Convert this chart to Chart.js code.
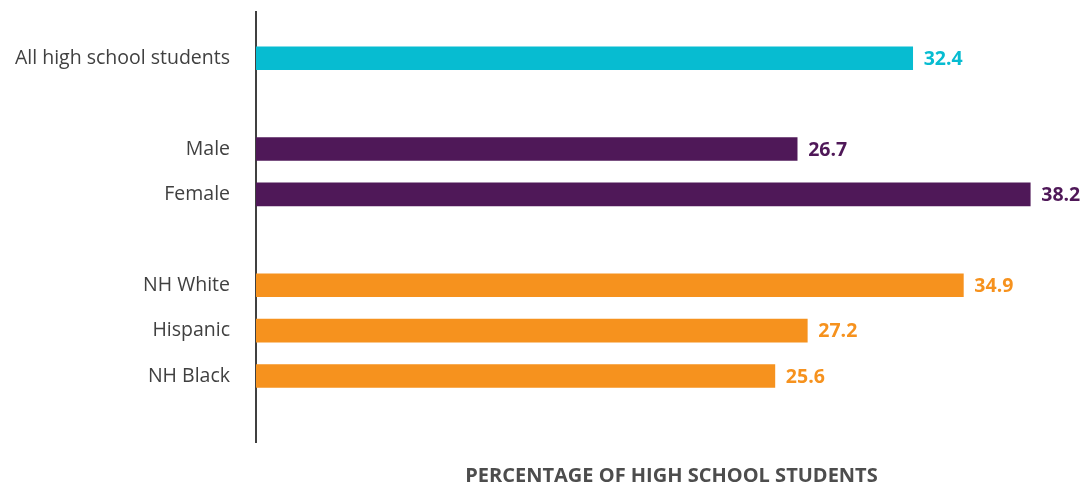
<!DOCTYPE html>
<html>
<head>
<meta charset="utf-8">
<script src="https://cdn.jsdelivr.net/npm/chart.js@4/dist/chart.umd.min.js"></script>
<style>
html,body{margin:0;padding:0;background:#fff;}
#wrap{width:1089px;height:484px;position:relative;}
</style>
</head>
<body>
<div id="wrap"><canvas id="c"></canvas></div>
<script>
const categories = ['All high school students', 'Male', 'Female', 'NH White', 'Hispanic', 'NH Black'];
const values = [32.4, 26.7, 38.2, 34.9, 27.2, 25.6];
const rowSlots = [0, 2, 3, 5, 6, 7];
const barColors = ['#07BCD1', '#4F1858', '#4F1858', '#F6921E', '#F6921E', '#F6921E'];
const axisTitle = 'PERCENTAGE OF HIGH SCHOOL STUDENTS';

const valueLabels = {
  id: 'valueLabels',
  afterDatasetsDraw(chart) {
    const ctx = chart.ctx;
    const meta = chart.getDatasetMeta(0);
    ctx.save();
    ctx.font = 'bold 19.5px "Open Sans"';
    ctx.textBaseline = 'middle';
    ctx.textAlign = 'left';
    meta.data.forEach((bar, i) => {
      ctx.fillStyle = barColors[i];
      ctx.fillText(values[i].toFixed(1), bar.x + 11, bar.y + 1);
    });
    ctx.restore();
  }
};

new Chart(document.getElementById('c'), {
  type: 'bar',
  data: {
    datasets: [{
      data: values.map((v, i) => ({x: v, y: rowSlots[i]})),
      backgroundColor: barColors,
      borderWidth: 0,
      barThickness: 23
    }]
  },
  options: {
    indexAxis: 'y',
    responsive: true,
    maintainAspectRatio: false,
    animation: false,
    layout: {padding: {top: 12, right: 2, bottom: 0, left: 0}},
    plugins: {legend: {display: false}, tooltip: {enabled: false}},
    scales: {
      x: {
        type: 'linear',
        min: 0,
        max: 41,
        grid: {display: false},
        border: {display: false},
        ticks: {display: false},
        title: {
          display: true,
          text: axisTitle,
          color: '#4D4D4D',
          font: {family: '"Open Sans"', size: 20, weight: 'bold', lineHeight: 0.8},
          padding: {top: 0, bottom: 0}
        },
        afterFit(scale) { scale.height = 42; scale.paddingLeft = 0; scale.paddingRight = 0; }
      },
      y: {
        type: 'linear',
        reverse: true,
        offset: false,
        min: -1.018,
        max: 8.453,
        grid: {display: false, drawTicks: false, offset: false},
        border: {display: true, color: '#404040', width: 2},
        ticks: {
          stepSize: 1,
          autoSkip: false,
          padding: 26,
          color: '#404040',
          font: {family: '"Open Sans"', size: 19.5},
          callback(v) {
            const i = rowSlots.indexOf(v);
            return i >= 0 ? categories[i] : '';
          }
        },
        afterFit(scale) { scale.width = 256; scale.paddingTop = 0; scale.paddingBottom = 0; }
      }
    }
  },
  plugins: [valueLabels]
});
</script>
</body>
</html>
